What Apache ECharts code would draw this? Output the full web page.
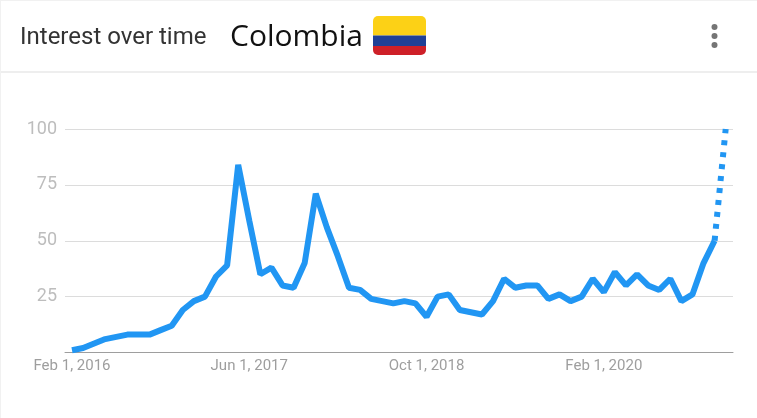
<!DOCTYPE html>
<html>
<head>
<meta charset="utf-8">
<title>Interest over time</title>
<style>
  html, body { margin: 0; padding: 0; background: #fff; }
  #main { width: 757px; height: 418px; }
</style>
</head>
<body>
<div id="main"></div>
<script src="https://cdn.jsdelivr.net/npm/echarts@6/dist/echarts.min.js"></script>
<script>
// monthly search interest
const interest = [
  1, 2, 4, 6, 7, 8, 8, 8, 10, 12, 19, 23, 25, 34, 39, 84, 59, 35, 38, 30,
  29, 40, 71, 56, 43, 29, 28, 24, 23, 22, 23, 22, 16, 25, 26, 19, 18, 17, 23, 33,
  29, 30, 30, 24, 26, 23, 25, 33, 27, 36, 30, 35, 30, 28, 33, 23, 26, 40, 50
];
// last stretch is the partial month, drawn dotted
const partial = [50, 100];
const tickIndexes = [0, 16, 32, 48];
const tickLabels = ["Feb 1, 2016", "Jun 1, 2017", "Oct 1, 2018", "Feb 1, 2020"];
const yTicks = [25, 50, 75, 100];

const solidPoints = interest.map((v, i) => [i, v]);
const dottedPoints = partial.map((v, i) => [interest.length - 1 + i, v]);

const chart = echarts.init(document.getElementById("main"), null, { renderer: "canvas" });

chart.setOption({
  animation: false,
  backgroundColor: "#ffffff",
  grid: { left: 65, top: 129, width: 668, height: 223.5 },
  xAxis: {
    type: "value",
    min: -0.632,
    max: 59.66,
    axisLine: { show: true, onZero: false, lineStyle: { color: "#9e9e9e", width: 1 } },
    axisTick: { show: false },
    splitLine: { show: false },
    axisLabel: {
      customValues: tickIndexes,
      showMinLabel: true,
      showMaxLabel: true,
      hideOverlap: false,
      margin: 6,
      fontFamily: "Roboto",
      fontSize: 15,
      color: "#9e9e9e",
      formatter: (v) => tickLabels[tickIndexes.indexOf(v)] || ""
    }
  },
  yAxis: {
    type: "value",
    min: 0,
    max: 100,
    interval: 25,
    axisLine: { show: false },
    axisTick: { show: false },
    splitLine: { lineStyle: { color: "#dcdcdc", width: 1 } },
    axisLabel: {
      margin: 8,
      padding: [2, 0, 0, 0],
      fontFamily: "Roboto",
      fontSize: 18,
      color: "#bdbdbd",
      formatter: (v) => (yTicks.includes(v) ? String(v) : "")
    }
  },
  series: [
    {
      type: "line",
      data: solidPoints,
      symbol: "none",
      clip: false,
      lineStyle: { color: "#2196f3", width: 6, cap: "butt", join: "bevel" }
    },
    {
      type: "line",
      data: dottedPoints,
      symbol: "none",
      clip: false,
      lineStyle: { color: "#2196f3", width: 6, type: [5, 7], cap: "butt" }
    }
  ],
  graphic: [
    // header
    { type: "rect", shape: { x: 0, y: 71.5, width: 757, height: 1 }, style: { fill: "#dddddd" } },
    { type: "rect", shape: { x: 0, y: 0, width: 1, height: 418 }, style: { fill: "#f1f1f1" } },
    { type: "rect", shape: { x: 0, y: 0, width: 757, height: 1 }, style: { fill: "#f1f1f1" } },
    {
      type: "text",
      x: 20,
      y: 38,
      style: {
        text: "Interest over time",
        fontFamily: "Roboto",
        fontSize: 24,
        fill: "#333333",
        verticalAlign: "middle"
      }
    },
    {
      type: "text",
      x: 230,
      y: 37,
      style: {
        text: "Colombia",
        fontFamily: "Open Sans",
        fontSize: 30,
        fill: "#111111",
        verticalAlign: "middle"
      }
    },
    // flag
    { type: "rect", shape: { x: 373, y: 16, width: 53, height: 19.5, r: [5, 5, 0, 0] }, style: { fill: "#fcd116" } },
    { type: "rect", shape: { x: 373, y: 35.5, width: 53, height: 10.5 }, style: { fill: "#1f4096" } },
    { type: "rect", shape: { x: 373, y: 46, width: 53, height: 9, r: [0, 0, 5, 5] }, style: { fill: "#ce2028" } },
    // menu dots
    { type: "circle", shape: { cx: 714.5, cy: 27, r: 3 }, style: { fill: "#757575" } },
    { type: "circle", shape: { cx: 714.5, cy: 36, r: 3 }, style: { fill: "#757575" } },
    { type: "circle", shape: { cx: 714.5, cy: 45, r: 3 }, style: { fill: "#757575" } }
  ]
});
</script>
</body>
</html>
